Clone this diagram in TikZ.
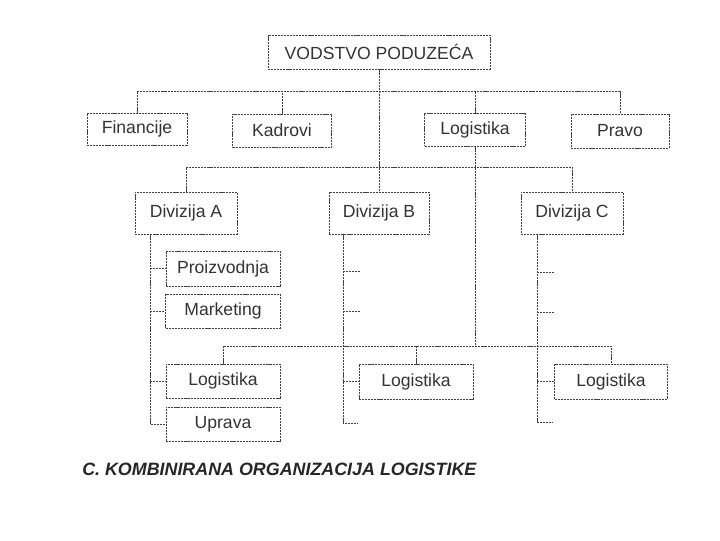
\documentclass[tikz,border=0pt]{standalone}
\usepackage{fontspec}
\setmainfont{Liberation Sans}
\begin{document}
\begin{tikzpicture}[x=0.75pt,y=-0.75pt,
  box/.style={draw=black!75, dash pattern=on 1.6pt off 0.7pt, line width=0.6pt,
    inner sep=0pt, text=black!80, font=\fontsize{13.2}{15}\selectfont},
  sz/.style 2 args={minimum width=#1*0.75pt, minimum height=#2*0.75pt},
  conn/.style={draw=black!75, dash pattern=on 1.6pt off 0.7pt, line width=0.6pt},
  captext/.style={inner sep=0pt, anchor=west, text=black!85,
    font=\fontsize{13.4}{15}\selectfont\bfseries\itshape}]
\useasboundingbox (0,0) rectangle (720,540);
% nodes
\node[box, sz={222}{34}] (top) at (379,52) {VODSTVO PODUZEĆA};
\node[box, sz={100}{32}] (fin) at (137,129) {Financije};
\node[box, sz={99}{33}] (kad) at (282,130.5) {Kadrovi};
\node[box, sz={101}{33}] (logT) at (475,129.5) {Logistika};
\node[box, sz={98}{34}] (prv) at (620,131) {Pravo};
\node[box, sz={102}{42}] (divA) at (186,213) {Divizija A};
\node[box, sz={100}{42}] (divB) at (379,213) {Divizija B};
\node[box, sz={102}{42}] (divC) at (572,213) {Divizija C};
\node[box, sz={114}{35}] (pro) at (223,268.5) {Proizvodnja};
\node[box, sz={115}{34}] (mkt) at (223,311) {Marketing};
\node[box, sz={114}{34}] (logA) at (223,381) {Logistika};
\node[box, sz={114}{34}] (upr) at (223,424) {Uprava};
\node[box, sz={114}{35}] (logB) at (416,381.5) {Logistika};
\node[box, sz={113}{35}] (logC) at (611,381.5) {Logistika};
\node[captext] (caption) at (82,469) {C. KOMBINIRANA ORGANIZACIJA LOGISTIKE};
% helper coordinates
\coordinate (b1) at (0,91);
\coordinate (b2) at (0,167);
\coordinate (b3) at (0,346);
\coordinate (sA) at (150,0);
\coordinate (sB) at (343,0);
\coordinate (sC) at (537,0);
\coordinate (tB1) at (360,271);
\coordinate (tB2) at (360,311);
\coordinate (tB3) at (358,423);
\coordinate (tC1) at (555,272);
\coordinate (tC2) at (555,312);
\coordinate (tC3) at (552,422);
% top level
\draw[conn] (top.south) -- (divB.north);
\draw[conn] (fin.north) -- (fin.north |- b1) -| (prv.north);
\draw[conn] (kad.north) -- (kad.north |- b1);
\draw[conn] (logT.north) -- (logT.north |- b1);
% divisions
\draw[conn] (divA.north) -- (divA.north |- b2) -| (divC.north);
% logistics line
\draw[conn] (logT.south) -- (logT.south |- b3);
\draw[conn] (logA.north) -- (logA.north |- b3) -| (logC.north);
\draw[conn] (logB.north) -- (logB.north |- b3);
% division A spine
\draw[conn] (divA.south -| sA) -- (sA |- upr.west) -- (upr.west);
\draw[conn] (sA |- pro.west) -- (pro.west);
\draw[conn] (sA |- mkt.west) -- (mkt.west);
\draw[conn] (sA |- logA.west) -- (logA.west);
% division B spine
\draw[conn] (divB.south -| sB) -- (sB |- tB3) -- (tB3);
\draw[conn] (sB |- tB1) -- (tB1);
\draw[conn] (sB |- tB2) -- (tB2);
\draw[conn] (sB |- logB.west) -- (logB.west);
% division C spine
\draw[conn] (divC.south -| sC) -- (sC |- tC3) -- (tC3);
\draw[conn] (sC |- tC1) -- (tC1);
\draw[conn] (sC |- tC2) -- (tC2);
\draw[conn] (sC |- logC.west) -- (logC.west);
\end{tikzpicture}
\end{document}
